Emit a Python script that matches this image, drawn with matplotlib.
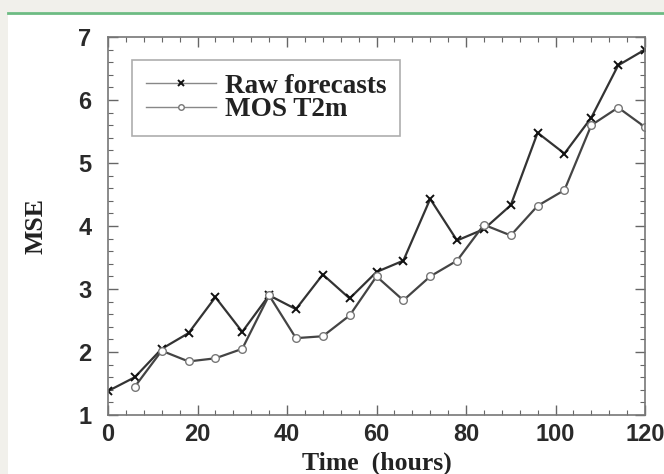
import numpy as np
import matplotlib.pyplot as plt
from matplotlib.patches import Rectangle
from matplotlib.lines import Line2D
from matplotlib.ticker import MultipleLocator

hours = np.arange(0, 121, 6)
raw = [1.38, 1.60, 2.05, 2.30, 2.87, 2.32, 2.90, 2.68, 3.23, 2.85, 3.27,
       3.45, 4.43, 3.77, 3.95, 4.33, 5.48, 5.15, 5.72, 6.55, 6.80]
mos_hours = hours[1:]
mos = [1.45, 2.02, 1.85, 1.90, 2.05, 2.90, 2.22, 2.25, 2.58, 3.20,
       2.82, 3.20, 3.45, 4.02, 3.85, 4.32, 4.57, 5.60, 5.88, 5.57]

fig = plt.figure(figsize=(6.64, 4.74), dpi=100)
fig.patch.set_facecolor('white')
# page-like frame: beige strip at top and left, green rule
fig.add_artist(Rectangle((0, 1 - 12 / 474), 1, 12 / 474, transform=fig.transFigure,
                         facecolor='#f1f0eb', edgecolor='none', zorder=0))
fig.add_artist(Rectangle((0, 0), 8 / 664, 1, transform=fig.transFigure,
                         facecolor='#f1f0eb', edgecolor='none', zorder=0))
fig.add_artist(Line2D([8 / 664, 1], [1 - 12.5 / 474] * 2, transform=fig.transFigure,
                      color='#6dbb83', lw=2))

ax = fig.add_axes([108 / 664, 59 / 474, 537 / 664, 378 / 474])
ax.plot(hours, raw, color='#333333', lw=1.6, marker='x', ms=6, mew=1.4,
        mec='#111111', label='Raw forecasts')
ax.plot(mos_hours, mos, color='#444444', lw=1.6, marker='o', ms=5.5, mew=1.0,
        mfc='white', mec='#777777', label='MOS T2m')

ax.set_xlim(0, 120)
ax.set_ylim(1, 7)
ax.xaxis.set_major_locator(MultipleLocator(20))
ax.xaxis.set_minor_locator(MultipleLocator(4))
ax.yaxis.set_major_locator(MultipleLocator(1))
ax.yaxis.set_minor_locator(MultipleLocator(0.2))
ax.tick_params(which='both', direction='in', top=True, right=True, color='#666666')
ax.tick_params(which='major', length=7, width=1)
ax.tick_params(which='minor', length=3.5, width=0.8)
ax.tick_params(axis='x', labelsize=17, pad=6)
ax.tick_params(axis='y', labelsize=17, pad=12)
for lab in ax.get_xticklabels() + ax.get_yticklabels():
    lab.set_fontfamily('Liberation Sans')
    lab.set_fontweight('bold')
    lab.set_color('#2a2a2a')
for s in ax.spines.values():
    s.set_color('#777777')
    s.set_linewidth(1.2)

ax.set_xlabel('Time  (hours)', fontsize=18.5, family='Liberation Serif',
              fontweight='bold', color='#222222', labelpad=4)
ax.set_ylabel('MSE', fontsize=18.5, family='Liberation Serif',
              fontweight='bold', color='#222222', labelpad=22)

leg = ax.legend(loc='upper left', bbox_to_anchor=(24 / 537, 1 - 23 / 378),
                borderaxespad=0, frameon=True, fancybox=False, borderpad=0.5,
                handlelength=2.6, handletextpad=0.35, labelspacing=-0.05,
                prop={'family': 'Liberation Serif', 'weight': 'bold', 'size': 19.5})
leg.get_frame().set_edgecolor('#999999')
leg.get_frame().set_linewidth(1.2)
for h in leg.get_lines():
    h.set_color('#888888')
    h.set_linewidth(1.0)
    h.set_markersize(4)
for t in leg.get_texts():
    t.set_color('#222222')

fig.savefig('out.png', dpi=100)
